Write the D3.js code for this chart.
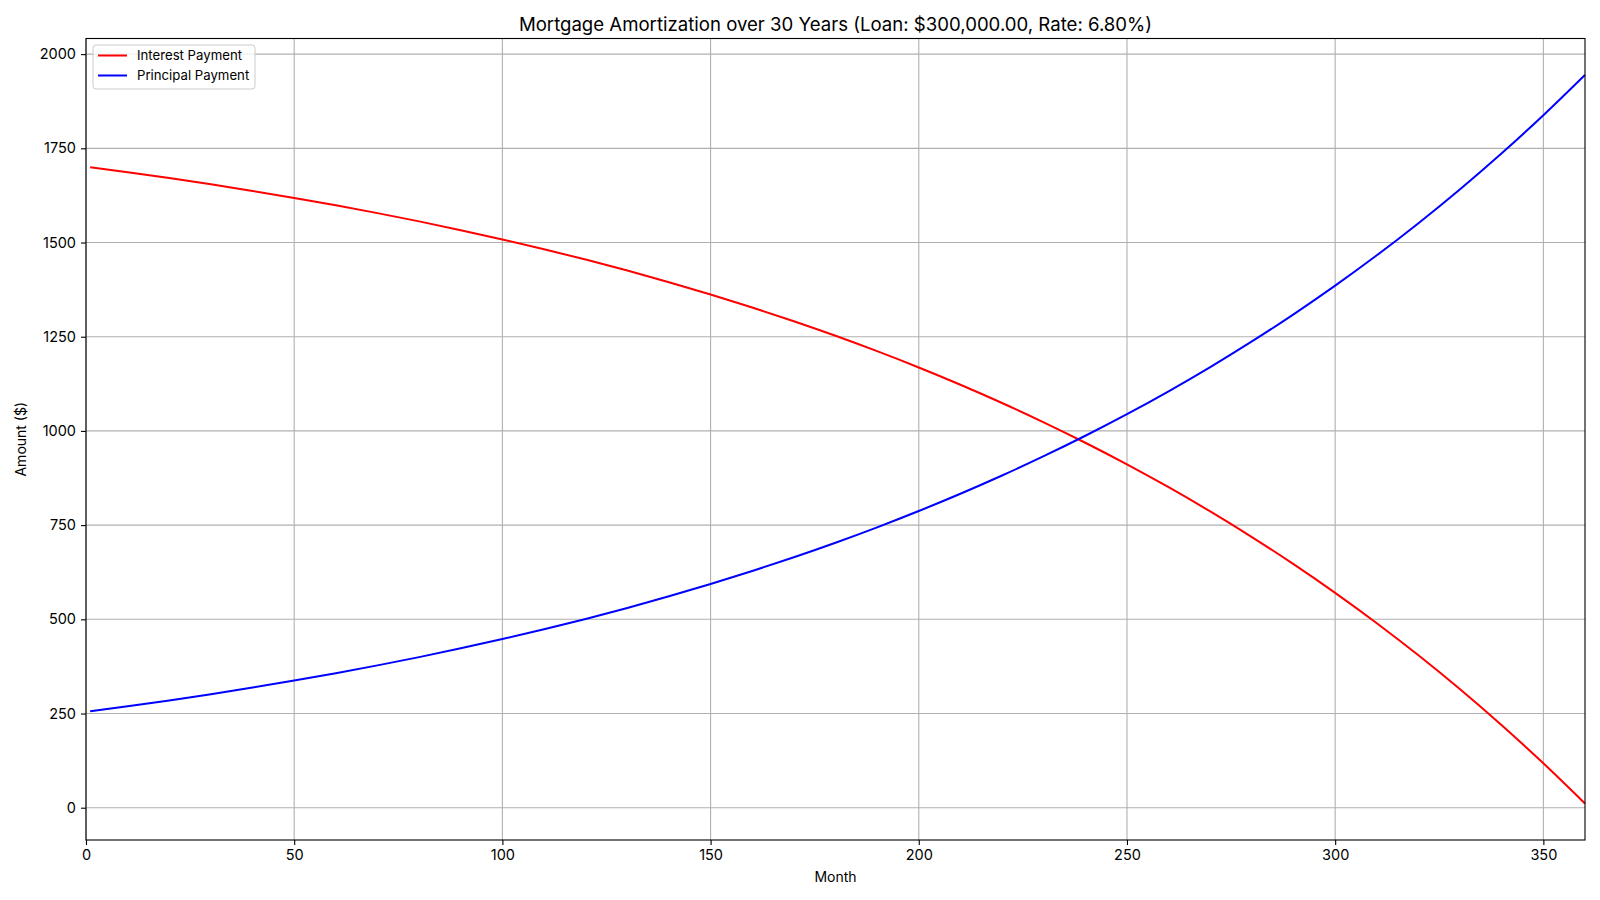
<!DOCTYPE html>
<html>
<head>
<meta charset="utf-8">
<script src="https://cdn.jsdelivr.net/npm/d3@7"></script>
<style>
  body { margin: 0; background: #fff; }
  svg { display: block; }
</style>
</head>
<body>
<svg id="chart"></svg>
<script>
// values (every 10 months)
const months = [1, 10, 20, 30, 40, 50, 60, 70, 80, 90, 100, 110, 120, 130, 140, 150, 160, 170, 180,
  190, 200, 210, 220, 230, 240, 250, 260, 270, 280, 290, 300, 310, 320, 330, 340, 350, 360];
const interestPayment = [1700.00, 1686.66, 1671.01, 1654.46, 1636.94, 1618.40, 1598.79, 1578.04, 1556.08,
  1532.84, 1508.25, 1482.24, 1454.71, 1425.59, 1394.76, 1362.14, 1327.64, 1291.12, 1252.48, 1211.60,
  1168.34, 1122.56, 1074.12, 1022.86, 968.63, 911.24, 850.52, 786.27, 718.28, 646.33, 570.21, 489.66,
  404.43, 314.25, 218.82, 117.85, 10.99];
const principalPayment = [255.78, 269.12, 284.77, 301.32, 318.84, 337.38, 356.99, 377.74, 399.70,
  422.94, 447.53, 473.54, 501.07, 530.19, 561.02, 593.64, 628.14, 664.66, 703.30, 744.18, 787.44,
  833.22, 881.66, 932.92, 987.15, 1044.54, 1105.26, 1169.51, 1237.50, 1309.45, 1385.57, 1466.12,
  1551.35, 1641.53, 1736.96, 1837.93, 1944.79];
const xTicks = [0, 50, 100, 150, 200, 250, 300, 350];
const yTicks = [0, 250, 500, 750, 1000, 1250, 1500, 1750, 2000];
const seriesNames = ["Interest Payment", "Principal Payment"];
const seriesColors = ["#ff0000", "#0000ff"];

const width = 1600, height = 900;
const margin = { top: 38.5, right: 15, bottom: 60, left: 86 };
const font = "Inter, 'Noto Sans', sans-serif";

const svg = d3.select("#chart")
  .attr("width", width)
  .attr("height", height)
  .attr("viewBox", [0, 0, width, height])
  .style("font-family", font);

const series = seriesNames.map((name, i) => ({
  name,
  color: seriesColors[i],
  values: months.map((m, j) => ({ month: m, value: i === 0 ? interestPayment[j] : principalPayment[j] }))
}));

// y limits like matplotlib's 5% margin around the data
const yMin = d3.min([...interestPayment, ...principalPayment]);
const yMax = d3.max([...interestPayment, ...principalPayment]);
const pad = (yMax - yMin) * 0.05;

const scaleX = d3.scaleLinear()
  .domain([0, 360])
  .range([margin.left, width - margin.right]);

const scaleY = d3.scaleLinear()
  .domain([yMin - pad, yMax + pad])
  .range([height - margin.bottom, margin.top]);

// grid
svg.append("g")
  .selectAll("line")
  .data(xTicks)
  .join("line")
  .attr("x1", d => scaleX(d)).attr("x2", d => scaleX(d))
  .attr("y1", margin.top).attr("y2", height - margin.bottom)
  .attr("stroke", "#b0b0b0").attr("stroke-width", 1.1);

svg.append("g")
  .selectAll("line")
  .data(yTicks)
  .join("line")
  .attr("y1", d => scaleY(d)).attr("y2", d => scaleY(d))
  .attr("x1", margin.left).attr("x2", width - margin.right)
  .attr("stroke", "#b0b0b0").attr("stroke-width", 1.1);

// lines
const line = d3.line()
  .x(d => scaleX(d.month))
  .y(d => scaleY(d.value))
  .curve(d3.curveMonotoneX);

svg.append("g")
  .selectAll("path")
  .data(series)
  .join("path")
  .attr("fill", "none")
  .attr("stroke", d => d.color)
  .attr("stroke-width", 2)
  .attr("d", d => line(d.values));

// axes
const xAxis = svg.append("g")
  .attr("transform", `translate(0,${height - margin.bottom})`)
  .call(d3.axisBottom(scaleX).tickValues(xTicks).tickFormat(d3.format("d"))
    .tickSize(5).tickPadding(5).tickSizeOuter(0));

const yAxis = svg.append("g")
  .attr("transform", `translate(${margin.left},0)`)
  .call(d3.axisLeft(scaleY).tickValues(yTicks).tickFormat(d3.format("d"))
    .tickSize(5).tickPadding(5).tickSizeOuter(0));

[xAxis, yAxis].forEach(g => {
  g.selectAll(".domain").remove();
  g.selectAll(".tick line").attr("stroke", "#000").attr("stroke-width", 1.1);
  g.selectAll(".tick text")
    .attr("fill", "#000")
    .style("font-family", font)
    .style("font-size", "14.5px");
});

// frame
svg.append("rect")
  .attr("x", margin.left)
  .attr("y", margin.top)
  .attr("width", width - margin.left - margin.right)
  .attr("height", height - margin.top - margin.bottom)
  .attr("fill", "none")
  .attr("stroke", "#000")
  .attr("stroke-width", 1.1);

// labels
svg.append("text")
  .attr("x", (margin.left + width - margin.right) / 2)
  .attr("y", 31)
  .attr("text-anchor", "middle")
  .style("font-size", "18.6px")
  .text("Mortgage Amortization over 30 Years (Loan: $300,000.00, Rate: 6.80%)");

svg.append("text")
  .attr("x", (margin.left + width - margin.right) / 2)
  .attr("y", 882)
  .attr("text-anchor", "middle")
  .style("font-size", "14px")
  .text("Month");

svg.append("text")
  .attr("transform", `translate(26,${(margin.top + height - margin.bottom) / 2}) rotate(-90)`)
  .attr("text-anchor", "middle")
  .style("font-size", "14px")
  .text("Amount ($)");

// legend
const legend = svg.append("g")
  .attr("transform", `translate(${margin.left + 7},45)`);

legend.append("rect")
  .attr("width", 162)
  .attr("height", 44)
  .attr("rx", 3)
  .attr("fill", "#fff")
  .attr("fill-opacity", 0.8)
  .attr("stroke", "#cccccc");

const items = legend.selectAll("g")
  .data(series)
  .join("g")
  .attr("transform", (d, i) => `translate(0,${10.5 + i * 20})`);

items.append("line")
  .attr("x1", 5).attr("x2", 34)
  .attr("stroke", d => d.color)
  .attr("stroke-width", 2);

items.append("text")
  .attr("x", 44)
  .attr("dy", "0.35em")
  .style("font-size", "13.2px")
  .text(d => d.name);
</script>
</body>
</html>
